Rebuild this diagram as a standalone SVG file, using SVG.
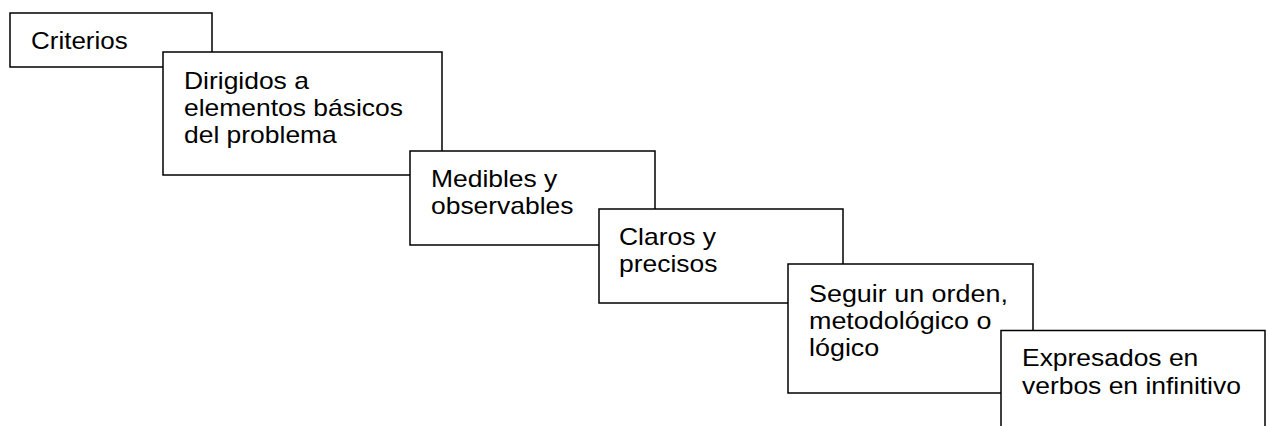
<svg xmlns="http://www.w3.org/2000/svg" width="1268" height="426" viewBox="0 0 1268 426">
<style>
.box{fill:#fff;stroke:#000;stroke-width:1.5}
.t{font-family:"Liberation Sans",Arial,sans-serif;font-size:23px;fill:#000}
</style>
<rect width="1268" height="426" fill="#fff"/>
<g id="connectors"></g>
<g id="n1">
<rect class="box" x="10" y="13" width="202" height="54"/>
<text class="t" transform="translate(31,48.5) scale(1.13,1)">Criterios</text>
</g>
<g id="n2">
<rect class="box" x="163" y="52" width="279" height="123"/>
<text class="t" transform="translate(184,88.5) scale(1.15,1)"><tspan x="0" y="0">Dirigidos a</tspan><tspan x="0" y="27.5">elementos básicos</tspan><tspan x="0" y="55">del problema</tspan></text>
</g>
<g id="n3">
<rect class="box" x="410" y="151" width="245" height="94"/>
<text class="t" transform="translate(431,187) scale(1.15,1)"><tspan x="0" y="0">Medibles y</tspan><tspan x="0" y="27.5">observables</tspan></text>
</g>
<g id="n4">
<rect class="box" x="599" y="209" width="244" height="94"/>
<text class="t" transform="translate(619,245) scale(1.15,1)"><tspan x="0" y="0">Claros y</tspan><tspan x="0" y="27.5">precisos</tspan></text>
</g>
<g id="n5">
<rect class="box" x="788" y="264" width="245" height="129"/>
<text class="t" transform="translate(809,301.5) scale(1.17,1)"><tspan x="0" y="0">Seguir un orden,</tspan><tspan x="0" y="27.5">metodológico o</tspan><tspan x="0" y="55">lógico</tspan></text>
</g>
<g id="n6">
<rect class="box" x="1001" y="330.5" width="264" height="110"/>
<text class="t" transform="translate(1022,365.5) scale(1.15,1)"><tspan x="0" y="0">Expresados en</tspan><tspan x="0" y="29">verbos en infinitivo</tspan></text>
</g>
</svg>
